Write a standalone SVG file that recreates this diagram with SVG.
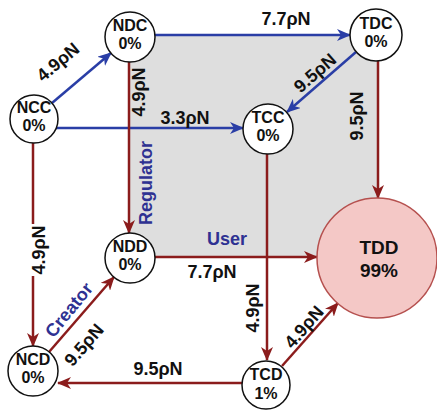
<svg xmlns="http://www.w3.org/2000/svg" width="437" height="411" viewBox="0 0 437 411">
<style>
.node{fill:#fff;stroke:#111;stroke-width:1.5}
.nt{font-family:"Liberation Sans",Arial,sans-serif;font-weight:bold;font-size:16px;fill:#111;text-anchor:middle}
.lbl{font-family:"Liberation Sans",Arial,sans-serif;font-weight:bold;font-size:18px;fill:#111;text-anchor:middle}
.role{font-family:"Liberation Sans",Arial,sans-serif;font-weight:bold;font-size:18px;fill:#2e3192;text-anchor:middle}
.b{stroke:#2a3ea6;stroke-width:2.5;fill:none}
.r{stroke:#8b1c1c;stroke-width:2.5;fill:none}
</style>
<defs>
<marker id="ab" viewBox="0 0 14 12" refX="13" refY="6" markerWidth="14" markerHeight="12" markerUnits="userSpaceOnUse" orient="auto">
<path d="M0,0 L14,6 L0,12 L4,6 z" fill="#2a3ea6"/>
</marker>
<marker id="ar" viewBox="0 0 14 12" refX="13" refY="6" markerWidth="14" markerHeight="12" markerUnits="userSpaceOnUse" orient="auto">
<path d="M0,0 L14,6 L0,12 L4,6 z" fill="#8b1c1c"/>
</marker>
</defs>
<rect x="130" y="35" width="248" height="222" fill="#dedede"/>
<g id="connectors">
<line class="b" x1="52" y1="103" x2="111" y2="53" marker-end="url(#ab)"/>
<line class="b" x1="155" y1="35" x2="350" y2="35" marker-end="url(#ab)"/>
<line class="b" x1="56" y1="128" x2="243" y2="128" marker-end="url(#ab)"/>
<line class="b" x1="356" y1="52" x2="287" y2="112" marker-end="url(#ab)"/>
<line class="r" x1="129" y1="62" x2="129" y2="233" marker-end="url(#ar)"/>
<line class="r" x1="378" y1="61" x2="378" y2="198" marker-end="url(#ar)"/>
<line class="r" x1="267" y1="154" x2="267" y2="360" marker-end="url(#ar)"/>
<line class="r" x1="33" y1="143" x2="33" y2="346" marker-end="url(#ar)"/>
<line class="r" x1="155" y1="257" x2="317" y2="257" marker-end="url(#ar)"/>
<line class="r" x1="49" y1="352" x2="114" y2="277" marker-end="url(#ar)"/>
<line class="r" x1="242" y1="383" x2="58" y2="383" marker-end="url(#ar)"/>
<line class="r" x1="282" y1="366" x2="338" y2="303" marker-end="url(#ar)"/>
<rect x="30" y="224" width="17" height="52" fill="#fff"/>
<text class="lbl" transform="translate(58,62) rotate(-40)" y="6">4.9ρN</text>
<text class="lbl" x="286" y="25">7.7ρN</text>
<text class="lbl" transform="translate(145,92) rotate(-90)">4.9ρN</text>
<text class="lbl" x="185" y="124">3.3ρN</text>
<text class="lbl" transform="translate(315,73) rotate(-41)" y="6">9.5ρN</text>
<text class="lbl" transform="translate(363,116) rotate(-90)">9.5ρN</text>
<text class="role" transform="translate(152,183) rotate(-90)">Regulator</text>
<text class="role" x="227" y="245">User</text>
<text class="lbl" x="212" y="278">7.7ρN</text>
<text class="lbl" transform="translate(259,308) rotate(-90)">4.9ρN</text>
<text class="lbl" transform="translate(304,327) rotate(-49)" y="6">4.9ρN</text>
<text class="lbl" transform="translate(45,250) rotate(-90)">4.9ρN</text>
<text class="role" transform="translate(69,310) rotate(-51)" y="6">Creator</text>
<text class="lbl" transform="translate(84,345) rotate(-49)" y="6">9.5ρN</text>
<text class="lbl" x="158" y="375">9.5ρN</text>
</g>
<g id="NDC"><circle class="node" cx="130" cy="37" r="25"/><text class="nt" x="130" y="31">NDC</text><text class="nt" x="130" y="49">0%</text></g>
<g id="NCC"><circle class="node" cx="34" cy="119" r="24"/><text class="nt" x="34" y="113">NCC</text><text class="nt" x="34" y="131">0%</text></g>
<g id="TDC"><circle class="node" cx="376" cy="35" r="26"/><text class="nt" x="376" y="29">TDC</text><text class="nt" x="376" y="47">0%</text></g>
<g id="TCC"><circle class="node" cx="268" cy="129" r="25"/><text class="nt" x="268" y="123">TCC</text><text class="nt" x="268" y="141">0%</text></g>
<g id="NDD"><circle class="node" cx="130" cy="258" r="25"/><text class="nt" x="130" y="252">NDD</text><text class="nt" x="130" y="270">0%</text></g>
<g id="TDD"><circle cx="377" cy="258" r="60" fill="#f4c8c6" stroke="#b5504e" stroke-width="1.5"/><text class="nt" style="font-size:19px" x="379" y="254">TDD</text><text class="nt" style="font-size:19px" x="379" y="277">99%</text></g>
<g id="NCD"><circle class="node" cx="33" cy="371" r="25"/><text class="nt" x="33" y="365">NCD</text><text class="nt" x="33" y="383">0%</text></g>
<g id="TCD"><circle class="node" cx="266" cy="385" r="24"/><text class="nt" x="266" y="380">TCD</text><text class="nt" x="266" y="399">1%</text></g>
</svg>
